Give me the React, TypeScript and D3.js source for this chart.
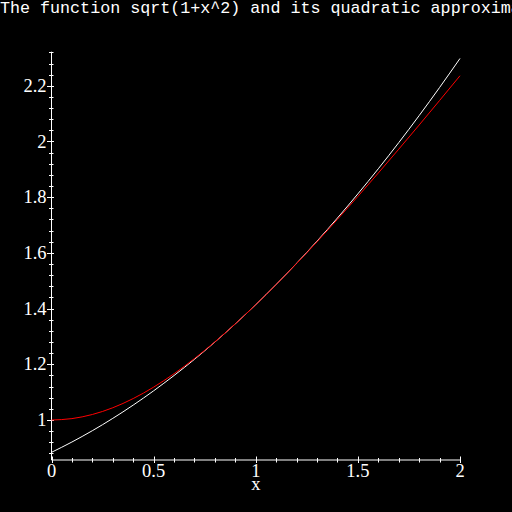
import React from 'react';
import * as d3 from 'd3';

// sample points
const xs = [0, 0.1, 0.2, 0.3, 0.4, 0.5, 0.6, 0.7, 0.8, 0.9, 1, 1.1, 1.2, 1.3, 1.4, 1.5, 1.6, 1.7, 1.8, 1.9, 2];
const sqrtVals = [1, 1.005, 1.0198, 1.044, 1.077, 1.118, 1.1662, 1.2207, 1.2806, 1.3454, 1.4142, 1.4866, 1.562, 1.6401, 1.7205, 1.8028, 1.8868, 1.9723, 2.0591, 2.1471, 2.2361];
const quadVals = [0.8839, 0.921, 0.9616, 1.0058, 1.0535, 1.1048, 1.1597, 1.218, 1.2799, 1.3453, 1.4142, 1.4867, 1.5627, 1.6422, 1.7253, 1.812, 1.9021, 1.9958, 2.093, 2.1938, 2.2981];

const xMajor = [0, 0.5, 1, 1.5, 2];
const xLabels = ['0', '0.5', '1', '1.5', '2'];
const yMajor = [1, 1.2, 1.4, 1.6, 1.8, 2, 2.2];
const yLabels = ['1', '1.2', '1.4', '1.6', '1.8', '2', '2.2'];
const title = 'The function sqrt(1+x^2) and its quadratic approximation';

const App = () => {
  const width = 512;
  const height = 512;

  const x = d3.scaleLinear().domain([0, 2]).range([51.5, 460]);
  const y = d3.scaleLinear().domain([0.8564, 2.3224]).range([460, 51.7]);

  const xMinor = d3.range(0, 21).map(i => i / 10).filter(v => !xMajor.some(m => Math.abs(m - v) < 1e-6));
  const yMinor = d3.range(22, 59).map(i => i * 0.04).filter(v => !yMajor.some(m => Math.abs(m - v) < 1e-6));

  const line = d3.line<number>()
    .x((d, i) => x(xs[i]))
    .y(d => y(d))
    .curve(d3.curveMonotoneX);

  const x0 = x(0);
  const axisY = y.range()[0];
  const font = '"Liberation Serif", serif';

  return (
    <svg width={width} height={height} style={{ position: 'fixed', top: 0, left: 0, background: '#000' }}>
      <rect width={width} height={height} fill="#000" />
      <text x={0} y={13} fill="#fff" fontFamily='"Liberation Mono", monospace' fontSize={16.7}>{title}</text>

      {/* axes */}
      <line x1={x0} x2={x0} y1={y.range()[1]} y2={axisY} stroke="#fff" strokeWidth={1} />
      <line x1={x0} x2={x(2)} y1={axisY} y2={axisY} stroke="#fff" strokeWidth={1} />

      {yMinor.map(v => (
        <line key={'ym' + v} x1={x0 - 2.5} x2={x0 + 2} y1={Math.round(y(v)) + 0.5} y2={Math.round(y(v)) + 0.5} stroke="#fff" />
      ))}
      {yMajor.map((v, i) => (
        <g key={'yM' + v}>
          <line x1={x0 - 4.5} x2={x0 + 2.5} y1={Math.round(y(v)) + 0.5} y2={Math.round(y(v)) + 0.5} stroke="#fff" />
          <text x={x0 - 5} y={y(v)} dy="0.33em" textAnchor="end" fill="#fff" fontFamily={font} fontSize={18.5}>{yLabels[i]}</text>
        </g>
      ))}

      {xMinor.map(v => (
        <line key={'xm' + v} x1={Math.round(x(v)) + 0.5} x2={Math.round(x(v)) + 0.5} y1={axisY - 2} y2={axisY + 2.5} stroke="#fff" />
      ))}
      {xMajor.map((v, i) => (
        <g key={'xM' + v}>
          <line x1={Math.round(x(v)) + 0.5} x2={Math.round(x(v)) + 0.5} y1={axisY - 3.5} y2={axisY + 3} stroke="#fff" />
          <text x={x(v)} y={477} textAnchor="middle" fill="#fff" fontFamily={font} fontSize={18.5}>{xLabels[i]}</text>
        </g>
      ))}
      <text x={x(1)} y={490} textAnchor="middle" fill="#fff" fontFamily={font} fontSize={18.5}>x</text>

      <path d={line(quadVals) ?? ''} fill="none" stroke="#fff" strokeWidth={1} />
      <path d={line(sqrtVals) ?? ''} fill="none" stroke="#ff0000" strokeWidth={1} />
    </svg>
  );
};

export default App;
